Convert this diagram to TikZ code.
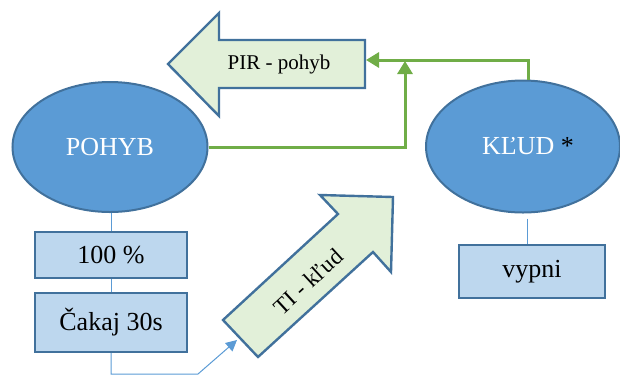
\documentclass[tikz,border=0pt]{standalone}
\usepackage{fontspec}
\setmainfont{Liberation Serif}
\usetikzlibrary{shapes.geometric,arrows.meta}
\definecolor{ellfill}{HTML}{5B9BD5}
\definecolor{edgeblue}{HTML}{41719C}
\definecolor{boxfill}{HTML}{BDD7EE}
\definecolor{arrfill}{HTML}{E2F0D9}
\definecolor{grn}{HTML}{70AD47}
\definecolor{thinblue}{HTML}{5B9BD5}
\begin{document}
\begin{tikzpicture}[x=1pt,y=-1pt,
 state/.style={ellipse, draw=edgeblue, fill=ellfill, line width=2pt, inner sep=0pt, text=white, font=\fontsize{26}{30}\selectfont},
 actbox/.style={rectangle, draw=edgeblue, fill=boxfill, line width=2.4pt, inner sep=0pt, font=\fontsize{26}{30}\selectfont},
 bigarrow/.style={draw=edgeblue, fill=arrfill, line width=2.4pt, line join=miter},
 link/.style={draw=thinblue, line width=1pt},
 flow/.style={draw=grn, line width=3pt, -{Triangle[length=13pt,width=15pt]}},
]
\useasboundingbox (0,0) rectangle (620,376);
% big arrows
\draw[bigarrow] (168,64) -- (219,13) -- (219,40) -- (365,40) -- (365,88) -- (219,88) -- (219,116) -- cycle;
\node[font=\fontsize{21}{25}\selectfont] (pir) at (279,64) {PIR - pohyb};
\coordinate (pirE) at (366,60);
\draw[bigarrow] (223,320) -- (338,214) -- (320,195) -- (393,197) -- (391,272) -- (373,252) -- (258,357) -- cycle;
\node[font=\fontsize{23}{27}\selectfont, rotate=42.5] (ti) at (308,282) {TI - kľud};
\coordinate (tiTail) at (237,340);
% states
\node[state, minimum width=195pt, minimum height=130pt] (pohyb) at (110,147) {POHYB};
\node[state, minimum width=194pt, minimum height=132pt] (klud) at (523,146.5) {\hspace*{10pt}KĽUD \textcolor{black}{*}};
% boxes
\node[actbox, minimum width=152pt, minimum height=46pt] (b100) at (111,255) {100 \%};
\node[actbox, minimum width=152pt, minimum height=59pt] (cakaj) at (111,322.5) {Čakaj 30s};
\node[actbox, minimum width=146pt, minimum height=53pt] (vypni) at (532,271.5) {vypni};
% thin connectors
\draw[link] (b100.north |- pohyb.south) -- (b100.north);
\draw[link] (b100.south) -- (cakaj.north);
\coordinate (c1) at (111,374);
\coordinate (c2) at (198,374);
\draw[link, -{Triangle[length=11pt,width=11pt]}] (cakaj.south) -- (c1) -- (c2) -- (tiTail);
\draw[link] ([shift={(4pt,-5pt)}]klud.south) -- ([xshift=4pt]klud.south |- vypni.north);
% green connectors
\coordinate (join) at (405,61);
\draw[flow] (pohyb.east) -| (join);
\draw[flow] ([xshift=5pt]klud.north) |- (pirE);
\end{tikzpicture}
\end{document}
